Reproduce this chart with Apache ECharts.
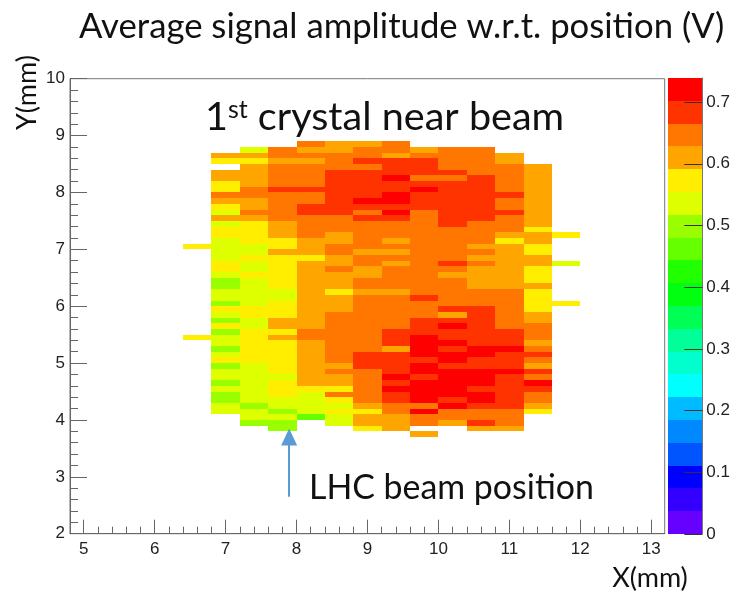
<!DOCTYPE html>
<html><head><meta charset="utf-8">
<script src="https://cdn.jsdelivr.net/npm/echarts@6/dist/echarts.min.js"></script>
<style>html,body{margin:0;padding:0;background:#fff}#c{width:738px;height:592px}</style>
</head><body><div id="c"></div>
<script>
const _=null, R=.72, O=.68, o=.65, A=.61, Y=.57, L=.54, G=.50, g=.46;
// Each list runs top to bottom, rows from Y = 8.85 down to 3.75 in 0.1 mm steps
const col64 = [_,_,_,_,_,_,_,_,_,_, _,_,_,_,_,_,_,_,Y,_, _,_,_,_,_,_,_,_,_,_, _,_,_,_,Y,_,_,_,_,_, _,_,_,_,_,_,_,_,_,_,_,_];
const col68 = [_,_,A,Y,_,A,A,Y,Y,o, A,Y,L,A,L,Y,Y,L,L,L, L,Y,Y,L,G,G,L,L,G,Y, L,G,Y,G,L,L,G,L,Y,G, L,L,G,L,G,G,L,L,_,_,_,_];
const col72 = [_,L,A,Y,A,A,A,A,o,o, A,A,o,A,Y,Y,Y,Y,L,L, Y,L,L,Y,L,L,L,L,L,Y, Y,L,L,Y,Y,Y,Y,Y,Y,L, L,L,L,L,L,L,G,L,L,G,_,_];
const col76 = [_,o,o,A,o,o,o,o,O,o, o,o,o,o,A,A,A,Y,Y,A, Y,Y,Y,Y,Y,Y,L,L,Y,Y, Y,A,A,Y,A,Y,Y,Y,Y,Y, Y,L,Y,Y,Y,L,L,G,L,G,G,_];
const col80 = [o,A,o,A,o,o,o,o,O,o, o,O,O,o,o,o,o,A,A,A, Y,A,A,A,A,A,A,A,A,A, A,A,A,o,o,A,A,A,A,A, A,A,A,Y,L,L,L,L,g,_,_,_];
const col84 = [A,A,o,o,o,O,O,O,O,O, O,O,O,o,o,o,A,A,o,o, A,A,o,A,A,A,Y,A,A,A, o,o,o,o,o,o,o,o,o,A, o,A,A,Y,o,Y,L,Y,L,L,_,_];
const col88 = [A,o,o,O,o,O,O,O,O,O, R,O,o,O,o,o,o,o,o,A, o,o,A,A,o,o,A,o,o,o, o,o,o,o,o,o,o,O,O,O, o,o,o,o,o,o,A,Y,A,A,Y,_];
const col92 = [o,o,A,O,O,O,R,O,O,R, R,O,R,O,o,o,o,A,o,A, o,A,o,o,o,o,A,o,o,o, o,o,o,O,O,O,A,O,O,O, O,R,O,R,O,O,o,o,A,A,A,_];
const col96 = [_,A,o,O,O,O,o,O,R,O, O,O,o,o,o,o,o,o,o,o, o,o,o,o,o,o,o,O,o,o, o,O,O,O,R,R,R,R,O,R, R,O,R,R,R,R,o,R,o,o,_,A];
const col100= [_,o,o,o,o,O,o,O,O,O, O,O,O,O,O,o,o,o,o,o, o,O,o,A,o,o,o,o,o,O, A,O,R,O,O,R,O,R,R,O, R,R,R,R,R,O,R,o,o,A,_,_];
const col104= [_,o,o,o,o,o,O,O,O,O, O,O,O,O,o,o,o,o,A,o, A,o,A,A,A,A,o,o,o,O, O,O,O,O,O,O,R,R,O,O, R,R,R,O,R,R,O,o,o,O,A,_];
const col108= [_,_,A,A,o,o,o,o,o,O, o,o,O,o,o,o,A,Y,A,A, A,A,A,A,A,A,o,o,o,o, o,o,o,O,O,O,R,O,O,O, R,O,O,O,O,O,O,o,o,o,A,_];
const col112= [_,_,_,_,A,A,A,A,A,A, A,A,A,A,A,Y,A,A,Y,Y, A,A,Y,Y,Y,A,Y,Y,Y,Y, A,A,o,o,o,A,o,O,o,A, O,o,R,O,o,o,A,Y,_,_,_,_];
const col116= [_,_,_,_,_,_,_,_,_,_, _,_,_,_,_,_,Y,_,_,_, _,L,_,_,_,_,_,_,Y,_, _,_,_,_,_,_,_,_,_,_, _,_,_,_,_,_,_,_,_,_,_,_];
const columns = [col64,col68,col72,col76,col80,col84,col88,col92,col96,col100,col104,col108,col112,col116];
const xEdges = [6.4,6.8,7.2,7.6,8.0,8.4,8.8,9.2,9.6,10.0,10.4,10.8,11.2,11.6,12.0];
const yTop = 8.9, yStep = 0.1;
const xMajor = [5,6,7,8,9,10,11,12,13];
const xMinor = [5.2,5.4,5.6,5.8,6.2,6.4,6.6,6.8,7.2,7.4,7.6,7.8,8.2,8.4,8.6,8.8,9.2,9.4,9.6,9.8,10.2,10.4,10.6,10.8,11.2,11.4,11.6,11.8,12.2,12.4,12.6,12.8];
const zMax = 0.739;
const palette = ['#6600ff','#3300ff','#0000ff','#0055ff','#0088ff','#00bbff','#00ffff','#00ffcc','#00ff99','#00ff55','#00ff11','#22ff00','#66ff00','#99ff00','#ddff00','#ffee00','#ffa500','#ff7700','#ff3300','#ff0000'];
const zStep = zMax/palette.length;

const cells=[];
columns.forEach((c,i)=>c.forEach((v,r)=>{ if(v!==null) cells.push([xEdges[i],xEdges[i+1],yTop-(r+1)*yStep,yTop-r*yStep,v]); }));
const barCells = palette.map((p,k)=>[k*zStep,(k+1)*zStep,k]);
const levelColor = v => palette[Math.min(palette.length-1,Math.floor(v/zStep))];
const snapRect = (a,b) => { const x=Math.round(a[0]),y=Math.round(a[1]); return {x,y,width:Math.round(b[0])-x,height:Math.round(b[1])-y}; };

const tickFont = {fontFamily:'Liberation Sans',fontSize:17,color:'#222'};
const calibri = 'Lato';
const chart = echarts.init(document.getElementById('c'),null,{renderer:'canvas'});
chart.setOption({
  animation:false,
  backgroundColor:'#fff',
  title:[
    {text:'Average signal amplitude w.r.t. position (V)',left:79,top:9,padding:0,textStyle:{fontFamily:calibri,fontWeight:'normal',fontSize:34.7,color:'#111'}},
    {text:'1{s|st} crystal near beam',left:205,top:97,padding:0,textStyle:{fontFamily:calibri,fontWeight:'normal',fontSize:39.6,color:'#111',rich:{s:{fontFamily:calibri,fontSize:25,color:'#111',verticalAlign:'top',padding:[0,0,16,0]}}}},
    {text:'LHC beam position',left:309,top:471,padding:0,textStyle:{fontFamily:calibri,fontWeight:'normal',fontSize:33.9,color:'#111'}}
  ],
  graphic:[
    {type:'text',x:650,y:578,silent:true,style:{text:'X(mm)',font:'27px Lato',fill:'#111',align:'center',verticalAlign:'middle'}},
    {type:'text',x:27,y:92.5,rotation:Math.PI/2,silent:true,style:{text:'Y(mm)',font:'27px Lato',fill:'#111',align:'center',verticalAlign:'middle'}}
  ],
  grid:[
    {left:70,top:78.7,width:594.7,height:455,show:true,borderColor:'#777',borderWidth:1,backgroundColor:'transparent'},
    {left:668,top:78,width:34.3,height:456,show:false}
  ],
  xAxis:[
    {type:'value',gridIndex:0,min:4.807,max:13.19,position:'bottom',
     axisLine:{lineStyle:{color:'#666'}},
     axisTick:{show:true,inside:true,length:14,customValues:xMajor,lineStyle:{color:'#666'}},
     axisLabel:{customValues:xMajor,margin:7,...tickFont},
     splitLine:{show:false}},
    {type:'value',gridIndex:0,min:4.807,max:13.19,position:'bottom',
     axisLine:{show:false},
     axisTick:{show:true,inside:true,length:7,customValues:xMinor,lineStyle:{color:'#666'}},
     axisLabel:{show:false},splitLine:{show:false}},
    {type:'value',gridIndex:1,min:0,max:1,show:false}
  ],
  yAxis:[
    {type:'value',gridIndex:0,min:2,max:10,interval:1,
     axisLine:{show:true,lineStyle:{color:'#666'}},
     axisTick:{show:true,inside:true,length:17,lineStyle:{color:'#666'}},
     minorTick:{show:true,splitNumber:5,length:8,lineStyle:{color:'#666'}},
     axisLabel:{margin:5,showMinLabel:true,showMaxLabel:true,...tickFont},
     splitLine:{show:false},minorSplitLine:{show:false}},
    {type:'value',gridIndex:1,min:0,max:zMax,interval:0.1,position:'right',z:5,
     axisLine:{show:true,onZero:false,lineStyle:{color:'#777'}},
     axisTick:{show:true,inside:true,length:18,lineStyle:{color:'#333'}},
     axisLabel:{margin:4,showMaxLabel:false,formatter:v=>String(+v.toFixed(1)),...tickFont},
     splitLine:{show:false}}
  ],
  series:[
    {type:'custom',xAxisIndex:0,yAxisIndex:0,data:cells,silent:true,z:1,clip:true,
     encode:{x:[0,1],y:[2,3]},
     renderItem:(p,api)=>{
       const a=api.coord([api.value(0),api.value(3)]), b=api.coord([api.value(1),api.value(2)]);
       return {type:'rect',shape:snapRect(a,b),style:{fill:levelColor(api.value(4))}};
     },
     markLine:{silent:true,animation:false,label:{show:false},symbolSize:[16,17],
       lineStyle:{color:'#5b9bd5',width:2,type:'solid'},itemStyle:{color:'#5b9bd5'},
       data:[[{coord:[7.896,2.65],symbol:'none'},{coord:[7.896,3.70],symbol:'triangle'}]]}},
    {type:'custom',xAxisIndex:2,yAxisIndex:1,data:barCells,silent:true,z:1,
     encode:{y:[0,1]},
     renderItem:(p,api)=>{
       const a=api.coord([0,api.value(1)]), b=api.coord([1,api.value(0)]);
       return {type:'rect',shape:snapRect(a,b),style:{fill:palette[api.value(2)]}};
     }}
  ]
});
</script></body></html>
